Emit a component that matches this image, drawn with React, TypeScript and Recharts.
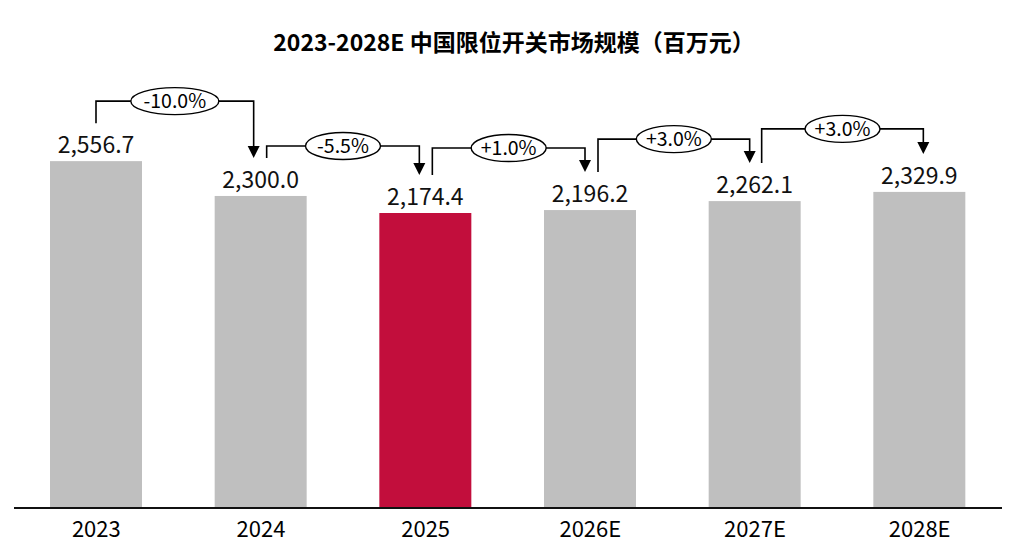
import React from 'react';
import { BarChart, Bar, XAxis, YAxis, Cell } from 'recharts';

// Market size of limit switches in China, million yuan
const categories = ['2023', '2024', '2025', '2026E', '2027E', '2028E'];
const marketSize = [2556.7, 2300.0, 2174.4, 2196.2, 2262.1, 2329.9];
const growthLabels = ['-10.0%', '-5.5%', '+1.0%', '+3.0%', '+3.0%'];
const highlightYear = '2025';

const data = categories.map((year, i) => ({ year, value: marketSize[i] }));

const CHART_W = 1024;
const CHART_H = 556;
const MARGIN = { top: 101, right: 22, left: 14, bottom: 18 };
const STEP = (CHART_W - MARGIN.left - MARGIN.right) / categories.length;

// hand-tuned arrow placement (px)
const arrowRise = [22, 12, 24, 24, 25];
const arrowStartDx = [0, 6, 7, 8, 7];
const arrowEndDx = [-7, -6, -5, -5, 4];
const ARROW_GAP = 38;

const FONT = '"Noto Sans CJK SC", "Noto Sans", sans-serif';
const GRAY = '#BFBFBF';
const RED = '#C20E3C';

const fmt = (v: number) =>
  v.toLocaleString('en-US', { minimumFractionDigits: 1, maximumFractionDigits: 1 });

const BarWithNotes = (props: any) => {
  const { x, y, width, height, fill, index } = props;
  const cx = x + width / 2;
  const bottom = y + height;
  const pxPerUnit = height / marketSize[index];

  let arrow = null;
  if (index < marketSize.length - 1) {
    const nextTop = bottom - marketSize[index + 1] * pxPerUnit;
    const x1 = cx + arrowStartDx[index];
    const x2 = cx + STEP + arrowEndDx[index];
    const yStart = y - ARROW_GAP;
    const yEnd = nextTop - ARROW_GAP;
    const yTop = Math.min(yStart, yEnd) - arrowRise[index];
    const label = growthLabels[index];
    const rx = label.length * 6.5 + 5;
    const mid = (x1 + x2) / 2;
    arrow = (
      <g>
        <polyline
          points={`${x1},${yStart} ${x1},${yTop} ${x2},${yTop} ${x2},${yEnd - 11}`}
          fill="none"
          stroke="#000"
          strokeWidth={1.6}
        />
        <polygon points={`${x2 - 6},${yEnd - 12} ${x2 + 6},${yEnd - 12} ${x2},${yEnd}`} fill="#000" />
        <ellipse cx={mid} cy={yTop} rx={rx} ry={13.5} fill="#fff" stroke="#000" strokeWidth={1.4} />
        <text x={mid} y={yTop + 7} textAnchor="middle" fontSize={19.5} fontFamily={FONT} fill="#000">
          {label}
        </text>
      </g>
    );
  }

  return (
    <g>
      <rect x={x} y={y} width={width} height={height} fill={fill} />
      <text x={cx} y={y - 8} textAnchor="middle" fontSize={23} fontFamily={FONT} fill="#111">
        {fmt(marketSize[index])}
      </text>
      {arrow}
    </g>
  );
};

export default function App() {
  return (
    <div style={{ position: 'absolute', left: 0, top: 0, width: CHART_W, height: CHART_H, background: '#fff' }}>
      <div
        style={{
          position: 'absolute',
          top: 26,
          left: 0,
          width: CHART_W,
          textAlign: 'center',
          fontFamily: FONT,
          fontWeight: 700,
          fontSize: 23,
          lineHeight: '30px',
          color: '#000',
          paddingLeft: 4,
          boxSizing: 'border-box',
        }}
      >
        2023-2028E 中国限位开关市场规模（百万元）
      </div>
      <BarChart width={CHART_W} height={CHART_H} data={data} margin={MARGIN}>
        <XAxis
          dataKey="year"
          axisLine={{ stroke: '#111', strokeWidth: 2 }}
          tickLine={false}
          tickSize={0}
          tickMargin={13}
          height={30}
          tick={{ fill: '#000', fontSize: 22, fontFamily: FONT, fontWeight: 400 }}
        />
        <YAxis hide domain={[0, 3000]} />
        <Bar dataKey="value" barSize={92} shape={<BarWithNotes />} isAnimationActive={false}>
          {data.map((d) => (
            <Cell key={d.year} fill={d.year === highlightYear ? RED : GRAY} />
          ))}
        </Bar>
      </BarChart>
    </div>
  );
}
